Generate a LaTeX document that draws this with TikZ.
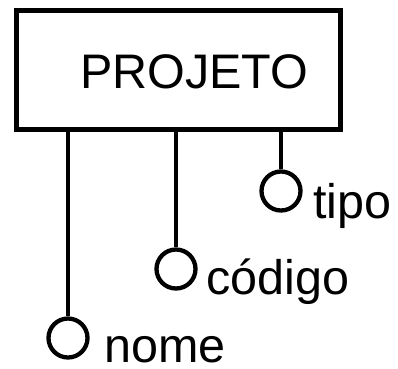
\documentclass[tikz,border=0pt]{standalone}
\usepackage{fontspec}
\setmainfont{Liberation Sans}
\begin{document}
\begin{tikzpicture}[x=1pt,y=-1pt,
  entbox/.style={draw=black, line width=5pt, rectangle, minimum width=324pt, minimum height=119pt, inner sep=0pt},
  attr/.style={draw=black, line width=4.3pt, circle, minimum size=39pt, inner sep=0pt},
  lbl/.style={inner sep=0pt, anchor=base west, font=\fontsize{48.5}{56}\selectfont},
  conn/.style={line width=4.5pt}]
\useasboundingbox (0,0) rectangle (398,368);
\node[entbox] (proj) at (178.5,69.5) {};
\node[lbl] (ptxt) at (80,88) {PROJETO};
\node[attr] (nome) at (68,338) {};
\node[attr] (cod) at (176,269) {};
\node[attr] (tipo) at (281,191) {};
\draw[conn] (proj.south -| nome) -- (nome.north);
\draw[conn] (proj.south -| cod) -- (cod.north);
\draw[conn] (proj.south -| tipo) -- (tipo.north);
\node[lbl] (lnome) at (104,362) {nome};
\node[lbl] (lcod) at (206,294) {código};
\node[lbl] (ltipo) at (313,218) {tipo};
\end{tikzpicture}
\end{document}
